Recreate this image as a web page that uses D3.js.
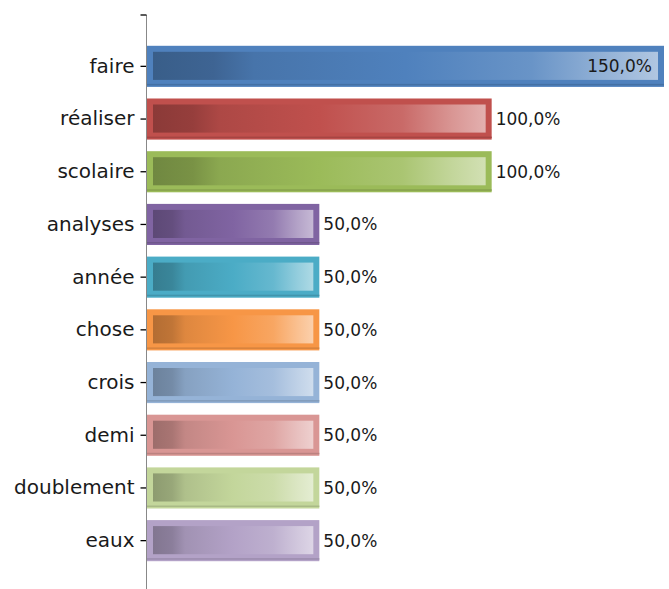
<!DOCTYPE html>
<html><head><meta charset="utf-8">
<script src="https://cdn.jsdelivr.net/npm/d3@7"></script>
<style>body{margin:0;background:#fff}svg{display:block}</style>
</head><body>
<svg id="chart" width="669" height="589"></svg>
<script>
const categories = ["faire","réaliser","scolaire","analyses","année","chose","crois","demi","doublement","eaux"];
const values = [150,100,100,50,50,50,50,50,50,50];
const valueLabels = ["150,0%","100,0%","100,0%","50,0%","50,0%","50,0%","50,0%","50,0%","50,0%","50,0%"];
const colors = ["#4f81bd","#c0504d","#9bbb59","#8064a2","#4bacc6","#f79646","#95b3d7","#d99694","#c3d69b","#b3a2c7"];

const svg = d3.select("#chart");
const x = d3.scaleLinear().domain([0,150]).range([147,664]);
const y = d3.scaleBand().domain(categories).range([40,567]).paddingInner(0.22).paddingOuter(0.11);

const defs = svg.append("defs");
colors.forEach((c,i)=>{
  const base = d3.color(c);
  const g = defs.append("linearGradient").attr("id","g"+i).attr("x1","0").attr("x2","1").attr("y1","0").attr("y2","0");
  const stops = [
    [0, base.darker(0.9)],
    [0.12, base.darker(0.7)],
    [0.2, base.darker(0.3)],
    [0.5, base],
    [0.75, d3.interpolateRgb(c,"#fff")(0.15)],
    [0.9, d3.interpolateRgb(c,"#fff")(0.4)],
    [1, d3.interpolateRgb(c,"#fff")(0.55)]
  ];
  stops.forEach(([o,col])=>g.append("stop").attr("offset",o).attr("stop-color",col.toString()));
});

const bars = svg.append("g").selectAll("g").data(categories).join("g");
bars.append("rect")
  .attr("x", x(0)).attr("y", d=>y(d))
  .attr("width", (d,i)=>x(values[i])-x(0)).attr("height", y.bandwidth())
  .attr("fill",(d,i)=>colors[i]);
bars.append("rect")
  .attr("x", x(0)).attr("y", d=>y(d)+y.bandwidth()-3)
  .attr("width", (d,i)=>x(values[i])-x(0)).attr("height", 1.5)
  .attr("fill",(d,i)=>d3.color(colors[i]).darker(0.4));
bars.append("rect")
  .attr("x", x(0)+6).attr("y", d=>y(d)+6)
  .attr("width", (d,i)=>x(values[i])-x(0)-12).attr("height", y.bandwidth()-13)
  .attr("fill",(d,i)=>`url(#g${i})`);

bars.append("text")
  .attr("x",(d,i)=> values[i]===150 ? x(values[i])-12 : x(values[i])+4)
  .attr("y", d=>y(d)+y.bandwidth()/2)
  .attr("dy","0.35em")
  .attr("text-anchor",(d,i)=> values[i]===150 ? "end" : "start")
  .attr("font-family","DejaVu Sans, Verdana, sans-serif")
  .attr("font-size",17)
  .attr("fill","#1a1a1a")
  .text((d,i)=>valueLabels[i]);

// axis
const axis = svg.append("g").attr("transform",`translate(${x(0)-0.5},0)`)
  .call(d3.axisLeft(y).tickSize(6).tickSizeOuter(0).tickPadding(6));
axis.select(".domain").remove();
axis.selectAll(".tick line").attr("stroke","#000").attr("stroke-width",1.3);
axis.selectAll(".tick text").attr("font-family","DejaVu Sans, Verdana, sans-serif").attr("font-size",20).attr("fill","#1a1a1a");
svg.append("line").attr("x1",x(0)-0.5).attr("x2",x(0)-0.5).attr("y1",15).attr("y2",589).attr("stroke","#888").attr("stroke-width",1);
svg.append("line").attr("x1",x(0)-6.5).attr("x2",x(0)-0.5).attr("y1",15).attr("y2",15).attr("stroke","#000").attr("stroke-width",1.3);
</script>
</body></html>
